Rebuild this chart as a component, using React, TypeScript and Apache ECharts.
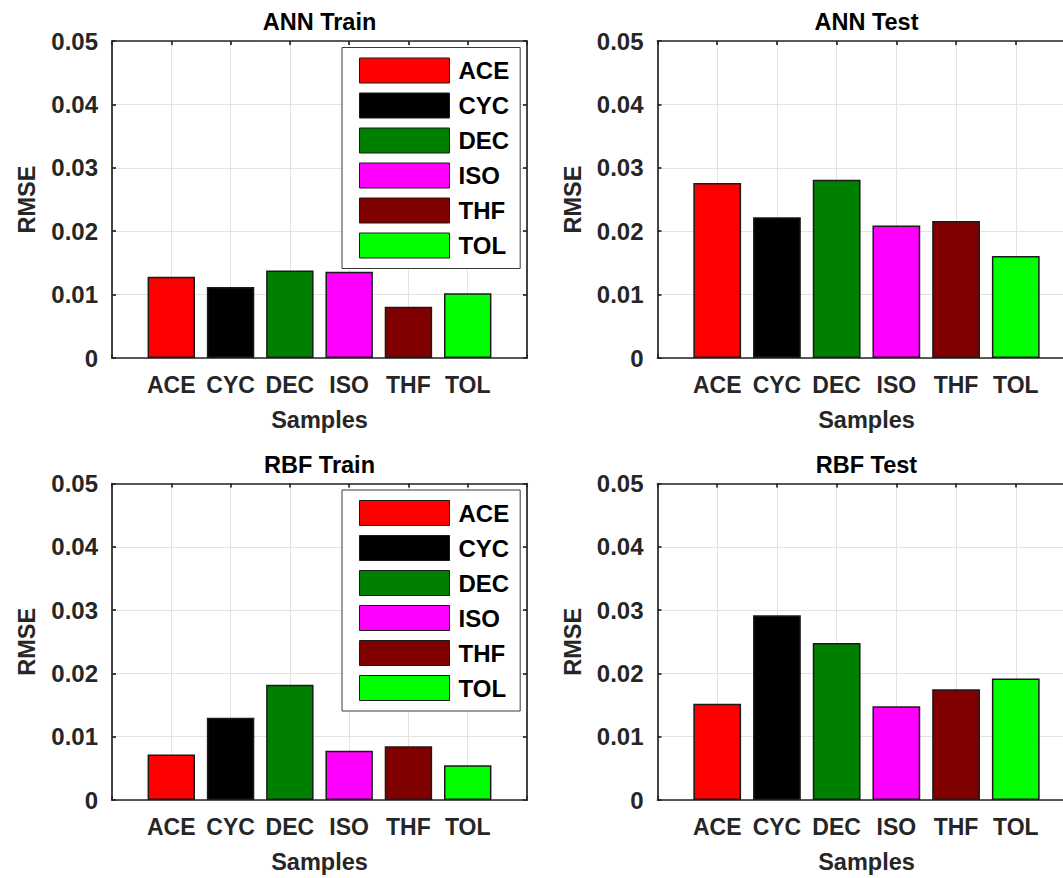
import React, { useEffect, useRef } from "react";
import * as echarts from "echarts";

const categories = ["ACE", "CYC", "DEC", "ISO", "THF", "TOL"];
const barColors = ["#ff0000", "#000000", "#008000", "#ff00ff", "#800000", "#00ff00"];
const annTrain = [0.0128, 0.0112, 0.0138, 0.0136, 0.0081, 0.0102];
const annTest = [0.0276, 0.0222, 0.0281, 0.0209, 0.0216, 0.0161];
const rbfTrain = [0.0072, 0.013, 0.0182, 0.0078, 0.0085, 0.0055];
const rbfTest = [0.0152, 0.0292, 0.0248, 0.0148, 0.0175, 0.0192];
const panelTitles = ["ANN Train", "ANN Test", "RBF Train", "RBF Test"];
const panelData = [annTrain, annTest, rbfTrain, rbfTest];
const panelHasLegend = [true, false, true, false];

const FONT = "'Liberation Sans', Arial, Helvetica, sans-serif";
const AX = "#262626";
const CW = 1100;
const CH = 878;

const panels = [
  { left: 112, top: 41, width: 415, height: 317 },
  { left: 657.5, top: 41, width: 418, height: 317 },
  { left: 112, top: 483.5, width: 415, height: 316.5 },
  { left: 657.5, top: 483.5, width: 418, height: 316.5 },
];

export default function App() {
  const ref = useRef<HTMLDivElement>(null);
  useEffect(() => {
    if (!ref.current) return;
    document.body.style.overflow = "hidden";
    const chart = echarts.init(ref.current, undefined, { renderer: "svg" });
    const grid: any[] = [];
    const xAxis: any[] = [];
    const yAxis: any[] = [];
    const series: any[] = [];
    const legend: any[] = [];
    const graphic: any[] = [];
    const line = { show: true, onZero: false, lineStyle: { color: AX, width: 1.7 } };
    const tick = { show: true, inside: true, length: 4, lineStyle: { color: AX, width: 1.7 } };
    panels.forEach((p, i) => {
      grid.push({
        left: p.left,
        top: p.top,
        right: CW - p.left - p.width,
        bottom: CH - p.top - p.height,
        show: true,
        borderWidth: 0,
        backgroundColor: "#ffffff",
        containLabel: false,
      });
      xAxis.push({
        type: "value",
        gridIndex: i,
        min: 0,
        max: 7,
        interval: 1,
        position: "bottom",
        name: "Samples",
        nameLocation: "middle",
        nameGap: 50,
        nameTextStyle: { fontSize: 23.5, fontWeight: "bold", color: AX, fontFamily: FONT },
        axisLine: line,
        axisTick: tick,
        axisLabel: {
          margin: 15,
          fontSize: 23,
          fontWeight: "bold",
          color: AX,
          fontFamily: FONT,
          formatter: (v: number) => categories[v - 1] || "",
        },
        splitLine: { show: true, lineStyle: { color: "#e2e2e2", width: 1 } },
      });
      xAxis.push({
        type: "value",
        gridIndex: i,
        min: 0,
        max: 7,
        interval: 1,
        position: "top",
        axisLine: line,
        axisTick: tick,
        axisLabel: { show: false },
        splitLine: { show: false },
      });
      yAxis.push({
        type: "value",
        gridIndex: i,
        min: 0,
        max: 0.05,
        interval: 0.01,
        position: "left",
        name: "RMSE",
        nameLocation: "middle",
        nameGap: 73,
        nameTextStyle: { fontSize: 23.5, fontWeight: "bold", color: AX, fontFamily: FONT },
        axisLine: line,
        axisTick: tick,
        axisLabel: {
          margin: 14,
          fontSize: 24,
          fontWeight: "bold",
          color: AX,
          fontFamily: FONT,
          formatter: (v: number) => (v === 0 ? "0" : v.toFixed(2)),
        },
        splitLine: { show: true, lineStyle: { color: "#e2e2e2", width: 1 } },
      });
      yAxis.push({
        type: "value",
        gridIndex: i,
        min: 0,
        max: 0.05,
        interval: 0.01,
        position: "right",
        axisLine: line,
        axisTick: tick,
        axisLabel: { show: false },
        splitLine: { show: false },
      });
      const bw = (p.width / 7) * 0.8;
      categories.forEach((c, k) => {
        series.push({
          type: "bar",
          name: c,
          xAxisIndex: 2 * i,
          yAxisIndex: 2 * i,
          barWidth: bw,
          barGap: "-100%",
          data: [[k + 1, panelData[i][k]]],
          itemStyle: { color: barColors[k], borderColor: "#1a1a1a", borderWidth: 1.5 },
          emphasis: { disabled: true },
        });
      });
      graphic.push({
        type: "text",
        x: p.left + p.width / 2,
        y: p.top - 19,
        style: {
          text: panelTitles[i],
          align: "center",
          verticalAlign: "middle",
          fontSize: 23.5,
          fontWeight: "bold",
          fontFamily: FONT,
          fill: "#000000",
        },
      });
      if (panelHasLegend[i]) {
        legend.push({
          data: categories,
          orient: "vertical",
          left: 342,
          top: p.top + 6.5,
          icon: "rect",
          itemWidth: 90,
          itemHeight: 25,
          itemGap: 9,
          padding: [10, 11, 10, 17],
          borderColor: "#3a3a3a",
          borderWidth: 1,
          backgroundColor: "#ffffff",
          selectedMode: false,
          itemStyle: { borderColor: "#1a1a1a", borderWidth: 1 },
          textStyle: {
            fontSize: 24,
            fontWeight: "bold",
            color: "#000000",
            fontFamily: FONT,
            padding: [0, 0, 0, 4],
          },
        });
      }
    });
    chart.setOption({
      animation: false,
      backgroundColor: "#ffffff",
      grid,
      xAxis,
      yAxis,
      series,
      legend,
      graphic,
    });
    return () => chart.dispose();
  }, []);
  return (
    <div
      ref={ref}
      style={{ position: "fixed", left: 0, top: 0, width: CW, height: CH }}
    />
  );
}
